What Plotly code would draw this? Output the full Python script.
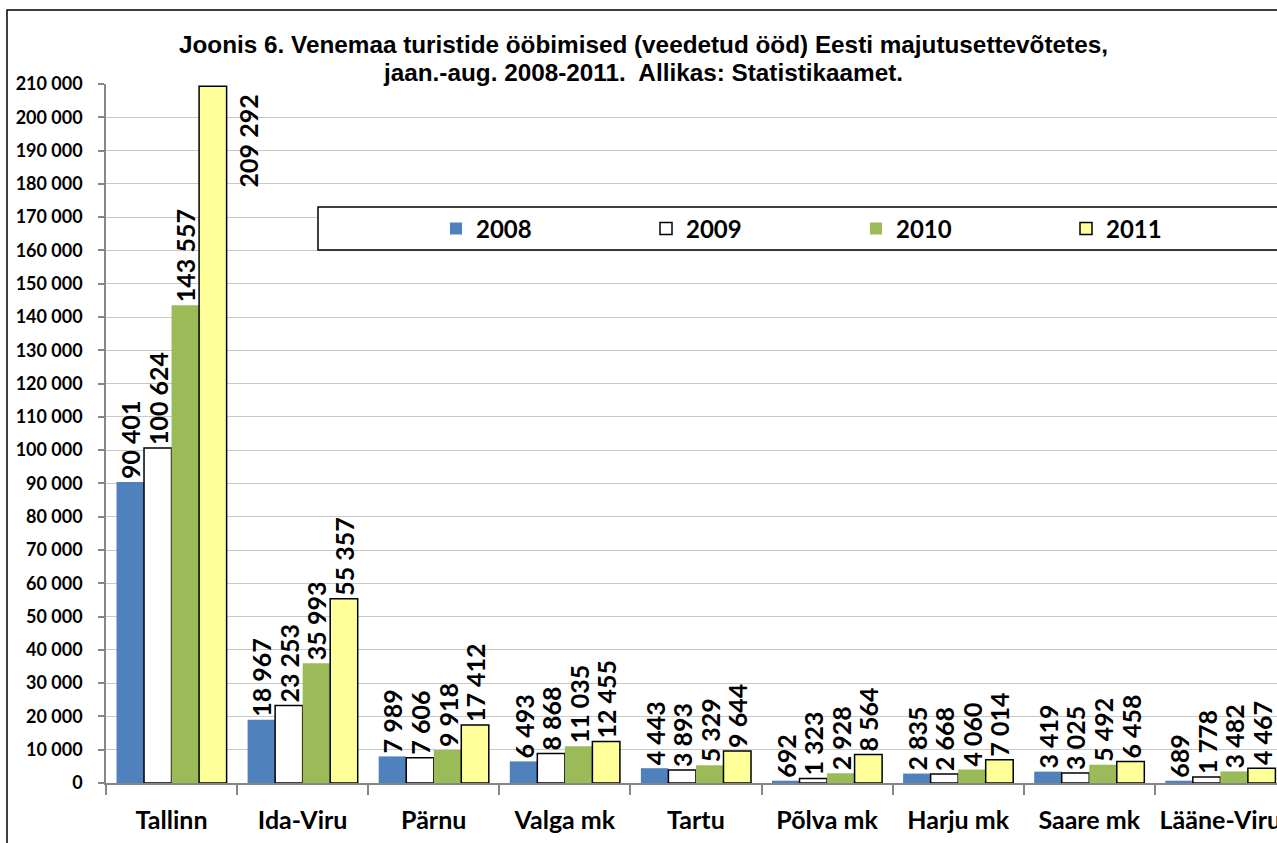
import plotly.graph_objects as go

categories = ["Tallinn", "Ida-Viru", "Pärnu", "Valga mk", "Tartu", "Põlva mk",
              "Harju mk", "Saare mk", "Lääne-Viru"]
years = ["2008", "2009", "2010", "2011"]
v2008 = [90401, 18967, 7989, 6493, 4443, 692, 2835, 3419, 689]
v2009 = [100624, 23253, 7606, 8868, 3893, 1323, 2668, 3025, 1778]
v2010 = [143557, 35993, 9918, 11035, 5329, 2928, 4060, 5492, 3482]
v2011 = [209292, 55357, 17412, 12455, 9644, 8564, 7014, 6458, 4467]
ytickvals = list(range(0, 210001, 10000))

title_line1 = "Joonis 6. Venemaa turistide ööbimised (veedetud ööd) Eesti majutusettevõtetes,"
title_line2 = "jaan.-aug. 2008-2011.  Allikas: Statistikaamet."


def fmt(v):
    return f"{v:,}".replace(",", " ")


W, H = 1277, 843
L, R, T, B = 106, 0, 84, 60
cat_w = 131.1
plot_w = W - L - R
plot_h = H - T - B

FONT = "Lato"
LABEL_SIZE = 25
fills = ["#4F81BD", "#FFFFFF", "#9BBB59", "#FFFF99"]
lines = ["#4F81BD", "#000000", "#9BBB59", "#000000"]
lwidth = [0, 1.5, 0, 1.5]
series = [v2008, v2009, v2010, v2011]

fig = go.Figure()
for i, (yr, vals) in enumerate(zip(years, series)):
    tpos = ["outside"] * len(vals)
    if yr == "2011":
        tpos[0] = "none"  # label of the tallest bar is placed beside it
    fig.add_trace(go.Bar(
        x=categories, y=vals, name=yr,
        marker=dict(color=fills[i], line=dict(color=lines[i], width=lwidth[i])),
        text=[fmt(v) for v in vals], textposition=tpos, textangle=-90,
        constraintext="none", cliponaxis=False,
        textfont=dict(family=FONT, size=LABEL_SIZE, color="black", weight="bold"),
    ))

# label of Tallinn 2011 beside the bar
fig.add_annotation(x=categories[0], y=v2011[0], text=fmt(v2011[0]), textangle=-90,
                   showarrow=False, xshift=76, yshift=-6, yanchor="top", xanchor="center",
                   font=dict(family=FONT, size=LABEL_SIZE, color="black", weight="bold"))


def px_x(p):
    return (p - L) / plot_w


def px_y(p):
    return (H - B - p) / plot_h


# title (two lines)
for txt, ypix in [(title_line1, 44), (title_line2, 72)]:
    fig.add_annotation(xref="paper", yref="paper", x=px_x(643), y=px_y(ypix),
                       xanchor="center", yanchor="middle", showarrow=False, text=txt,
                       font=dict(family="Liberation Sans", size=24.3, color="black",
                                 weight="bold"))

# chart frame
fig.add_shape(type="rect", xref="paper", yref="paper",
              x0=px_x(7), x1=1.3, y0=px_y(900), y1=px_y(10),
              line=dict(color="#000000", width=1.5), fillcolor="rgba(0,0,0,0)", layer="below")
# legend box
fig.add_shape(type="rect", xref="paper", yref="paper",
              x0=px_x(318), x1=1.3, y0=px_y(250), y1=px_y(207),
              line=dict(color="#000000", width=1.5), fillcolor="white", layer="above")

fig.update_layout(
    width=W, height=H,
    margin=dict(l=L, r=R, t=T, b=B, autoexpand=False),
    paper_bgcolor="white", plot_bgcolor="white",
    barmode="group", bargap=0.16, bargroupgap=0,
    showlegend=True,
    legend=dict(orientation="h", x=px_x(436), xanchor="left", y=px_y(229), yanchor="middle",
                xref="paper", yref="paper",
                entrywidth=165, entrywidthmode="pixels", bgcolor="rgba(0,0,0,0)",
                borderwidth=0, traceorder="normal",
                font=dict(family=FONT, size=24, color="black", weight="bold")),
    xaxis=dict(type="category", range=[-0.5, -0.5 + plot_w / cat_w],
               tickson="boundaries", ticks="outside", ticklen=10, tickcolor="#868686",
               tickwidth=1.5,
               showline=True, linecolor="#868686", linewidth=1.5, showgrid=False,
               ticklabelstandoff=14,
               tickfont=dict(family=FONT, size=25, color="black", weight="bold")),
    yaxis=dict(range=[0, 210000], tickvals=ytickvals, ticktext=[fmt(v) for v in ytickvals],
               ticks="outside", ticklen=6, tickcolor="#868686", tickwidth=1.5,
               showline=True, linecolor="#868686", linewidth=1.5,
               showgrid=True, gridcolor="#C8C8C8", gridwidth=1, zeroline=False,
               ticklabelstandoff=12,
               tickfont=dict(family=FONT, size=18, color="black", weight="bold")),
)

fig.write_html("out.html", config={"displayModeBar": False},
               post_script="document.body.style.margin='0';document.body.style.overflow='hidden';")
